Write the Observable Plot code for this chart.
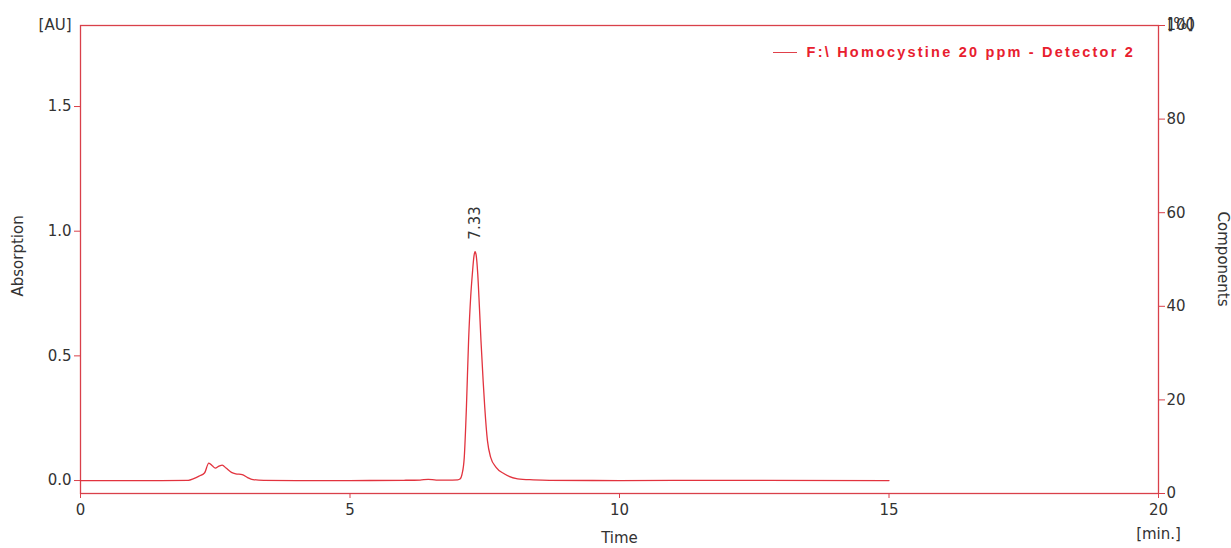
<!DOCTYPE html>
<html>
<head>
<meta charset="utf-8">
<script src="https://cdn.jsdelivr.net/npm/d3@7"></script>
<script src="https://cdn.jsdelivr.net/npm/@observablehq/plot@0.6"></script>
<style>
  html, body { margin: 0; padding: 0; background: #fff; }
  #wrap { position: relative; width: 1231px; height: 548px; }
  #legend { position: absolute; right: 96px; top: 44px; display: flex; align-items: center;
    font-family: "Liberation Sans", Arial, sans-serif; font-size: 14.5px; font-weight: 600;
    letter-spacing: 2.2px; color: #e8202e; white-space: nowrap; }
  #legend .sw { display: inline-block; width: 24px; height: 0; border-top: 1.5px solid #e0404a; margin-right: 10px; }
</style>
</head>
<body>
<div id="wrap"><div id="legend"><span class="sw"></span><span id="legtext"></span></div></div>
<script>
// ---- data ----
const seriesName = "F:\\ Homocystine 20 ppm - Detector 2";
const time = [0, 1.5, 2.0, 2.1, 2.2, 2.3, 2.38, 2.45, 2.5, 2.57, 2.63, 2.7, 2.8, 2.88, 3.0, 3.1, 3.2, 3.4, 4, 5, 6, 6.3, 6.45, 6.6, 6.8, 7.0, 7.04, 7.08, 7.12, 7.16, 7.20, 7.24, 7.27, 7.30, 7.32, 7.34, 7.37, 7.40, 7.43, 7.47, 7.50, 7.55, 7.61, 7.71, 7.86, 8.11, 8.4, 8.7, 10, 12, 15];
const absorption = [0.0, 0.0, 0.001, 0.008, 0.018, 0.03, 0.07, 0.058, 0.05, 0.058, 0.062, 0.05, 0.033, 0.027, 0.024, 0.012, 0.004, 0.001, 0.0, 0.0, 0.001, 0.002, 0.005, 0.002, 0.002, 0.003, 0.006, 0.027, 0.093, 0.294, 0.561, 0.74, 0.829, 0.9, 0.918, 0.905, 0.829, 0.70, 0.561, 0.40, 0.294, 0.16, 0.093, 0.053, 0.027, 0.007, 0.003, 0.001, 0.0, 0.001, 0.0];
const peakTimes = [7.33];
const peakHeights = [0.918];
const xTicks = [0, 5, 10, 15, 20];
const yTicks = [0, 0.5, 1.0, 1.5];
const pctTicks = [0, 20, 40, 60, 80, 100];

const yMin = -0.052, yMax = 1.825;
const red = "#d9404a";
const lineRed = "#e2333e";
const textCol = "#333";

const rows = time.map((t, i) => ({t, v: absorption[i]}));
const peaks = peakTimes.map((t, i) => ({t, v: peakHeights[i], label: t.toFixed(2)}));
const toAU = p => yMin + p / 100 * (yMax - yMin);
const toPct = v => Math.round((v - yMin) / (yMax - yMin) * 100);

document.getElementById("legtext").textContent = seriesName;

const chart = Plot.plot({
  width: 1231, height: 548,
  marginLeft: 80, marginRight: 73, marginTop: 25, marginBottom: 55,
  style: {fontFamily: "'DejaVu Sans', Verdana, sans-serif", fontSize: "15px", background: "transparent", overflow: "visible"},
  x: {domain: [0, 20]},
  y: {domain: [yMin, yMax]},
  marks: [
    Plot.frame({stroke: red, strokeWidth: 1.3}),
    Plot.axisX({ticks: xTicks, tickSize: 5, tickPadding: 6, stroke: red, fill: textCol, label: null, tickFormat: d => String(d)}),
    Plot.axisY({ticks: yTicks, tickSize: 6, tickPadding: 3, stroke: red, fill: textCol, label: null, tickFormat: d => d.toFixed(1)}),
    Plot.axisY({anchor: "right", ticks: pctTicks.map(toAU), tickSize: 6, tickPadding: 2, stroke: red, fill: textCol, label: null, tickFormat: d => String(toPct(d))}),
    Plot.line(rows, {x: "t", y: "v", stroke: lineRed, strokeWidth: 1.3, curve: "monotone-x"}),
    Plot.text(peaks, {x: "t", y: "v", text: "label", rotate: -90, textAnchor: "start", dy: -12, dx: 0, fill: textCol, fontSize: 15}),
    Plot.text(["[AU]"], {frameAnchor: "top-left", textAnchor: "end", dx: -9, dy: -6, fill: textCol, fontSize: 15}),
    Plot.text(["[%]"], {frameAnchor: "top-right", textAnchor: "start", dx: 9, dy: -7, fill: textCol, fontSize: 15}),
    Plot.text(["[min.]"], {frameAnchor: "bottom-right", textAnchor: "middle", dx: 0, dy: 45, fill: textCol, fontSize: 15}),
    Plot.text(["Time"], {frameAnchor: "bottom", dy: 49, fill: textCol, fontSize: 15}),
    Plot.text(["Absorption"], {frameAnchor: "left", rotate: -90, dx: -62, dy: 37, fill: textCol, fontSize: 15}),
    Plot.text(["Components"], {frameAnchor: "right", rotate: 90, dx: 64, dy: 47, fill: textCol, fontSize: 15})
  ]
});
document.getElementById("wrap").prepend(chart);
</script>
</body>
</html>
